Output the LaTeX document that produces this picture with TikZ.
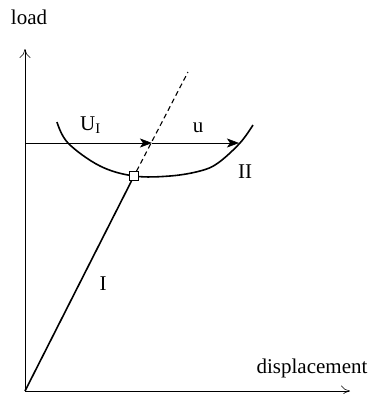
\documentclass[tikz,border=0pt]{standalone}
\usepackage{fontspec}
\setmainfont{Liberation Serif}
\usetikzlibrary{arrows.meta}
\begin{document}
\begin{tikzpicture}[x=1pt,y=-1pt,
  axis/.style={line width=0.6pt,-{To[length=9pt,width=11pt]}},
  thickline/.style={line width=1.6pt},
  dashline/.style={line width=1.1pt,dash pattern=on 5pt off 3.5pt},
  arrowline/.style={line width=0.6pt},
  arrowtip/.style={-{Stealth[length=12pt,width=9pt,inset=3pt]}},
  lbl/.style={font=\fontsize{21}{24}\selectfont,inner sep=0pt,anchor=base},
  marker/.style={draw,fill=white,line width=0.8pt,minimum size=9pt,inner sep=0pt}]
\useasboundingbox (0,0) rectangle (371,394);
\coordinate (O) at (25,391);
\coordinate (ytip) at (25,49);
\coordinate (xtip) at (350,391);
\coordinate (L) at (25,143);
\coordinate (A1) at (152,143);
\coordinate (A2) at (239,143);
\coordinate (D) at (188,72);
% axes
\draw[axis] (O) -- (ytip);
\draw[axis] (O) -- (xtip);
% curve II
\draw[thickline] plot[smooth,tension=0.6] coordinates
  {(57,122) (68,143) (100,166) (134,176) (170,176) (200,171) (218,163) (240,143) (253,125)};
% line I and dashed continuation
\node[marker] (S) at (134,176) {};
\draw[thickline] (O) -- (S);
\draw[dashline] (S) -- (D);
% horizontal arrows
\draw[arrowline,arrowtip] (L) -- (A1);
\draw[arrowline,arrowtip] (A1) -- (A2);
\node[marker] at (S) {};
% labels
\node[lbl] (tload) at (29,24) {load};
\node[lbl] (tdisp) at (312,373) {displacement};
\node[lbl,anchor=base west] (tU) at (80,130) {U\textsubscript{I}};
\node[lbl] (tu) at (198,132) {u};
\node[lbl] (tII) at (245,178) {II};
\node[lbl] (tI) at (103,290) {I};
\end{tikzpicture}
\end{document}
